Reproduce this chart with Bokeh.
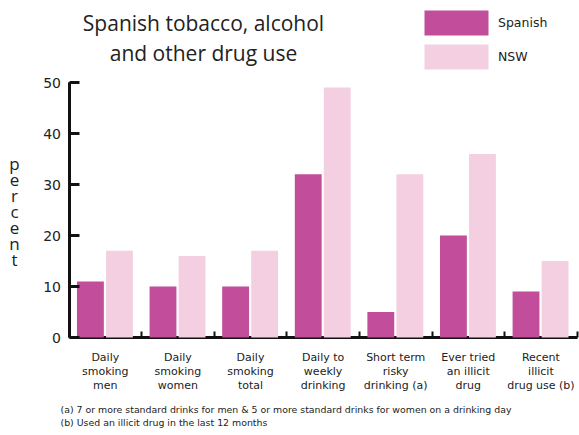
from bokeh.plotting import figure
from bokeh.models import Range1d, FixedTicker, Label, Legend, LegendItem, ColumnDataSource, CustomJSTickFormatter, LinearAxis
from bokeh.embed import file_html
from bokeh.resources import INLINE
import numpy as np

categories = [["Daily", "smoking", "men"], ["Daily", "smoking", "women"], ["Daily", "smoking", "total"],
              ["Daily to", "weekly", "drinking"], ["Short term", "risky", "drinking (a)"],
              ["Ever tried", "an illicit", "drug"], ["Recent", "illicit", "drug use (b)"]]
spanish = [11, 10, 10, 32, 5, 20, 9]
nsw = [17, 16, 17, 49, 32, 36, 15]
y_ticks = [0, 10, 20, 30, 40, 50]
series_names = ["Spanish", "NSW"]
title_lines = ["Spanish tobacco, alcohol", "and other drug use"]
y_label = "percent"
footnotes = ["(a) 7 or more standard drinks for men & 5 or more standard drinks for women on a drinking day",
             "(b) Used an illicit drug in the last 12 months"]

SP_COL = "#C14D9B"
NSW_COL = "#F4CFE2"
TXT = "#222222"
AXC = "#111111"
FONT = "DejaVu Sans"

W, H = 579, 435
AX_X, AX_Y = 68.5, 337.0      # page position of the axes origin
PX_X, PX_Y = 72.6, 5.1        # pixels per data unit

n = len(categories)
idx = np.arange(n)
src = ColumnDataSource(dict(x_sp=idx + 0.295, x_nsw=idx + 0.695, sp=spanish, nsw=nsw))

p = figure(width=W, height=H, output_backend="svg", toolbar_location=None,
           x_range=Range1d(-AX_X / PX_X, (W - AX_X) / PX_X),
           y_range=Range1d(-(H - AX_Y) / PX_Y, AX_Y / PX_Y),
           min_border=0)
p.outline_line_color = None
p.grid.visible = False

def dx(page_x):
    return (page_x - AX_X) / PX_X
def dy(page_y):
    return (AX_Y - page_y) / PX_Y

r_sp = p.vbar(x="x_sp", top="sp", bottom=0, width=0.37, source=src, fill_color=SP_COL, line_color=None)
r_nsw = p.vbar(x="x_nsw", top="nsw", bottom=0, width=0.37, source=src, fill_color=NSW_COL, line_color=None)

nolabel = CustomJSTickFormatter(code="return ' '")

# x axis: rule with group-separator ticks pointing up, drawn under the bars
xa = p.xaxis[0]
xa.fixed_location = 0
xa.bounds = (0, n)
xa.ticker = FixedTicker(ticks=list(idx + 1.0), minor_ticks=[])
xa.formatter = nolabel
xa.major_tick_in = 6
xa.major_tick_out = 0
xa.major_tick_line_width = 2
xa.major_tick_line_color = AXC
xa.minor_tick_in = 0
xa.minor_tick_out = 0
xa.axis_line_width = 3
xa.axis_line_color = AXC
xa.level = "underlay"

# y axis, left side: rule + tick labels
ya = p.yaxis[0]
ya.fixed_location = 0
ya.bounds = (0, 50)
ya.ticker = FixedTicker(ticks=y_ticks)
ya.minor_tick_in = 0
ya.minor_tick_out = 0
ya.major_tick_in = 0
ya.major_tick_out = 0
ya.axis_line_width = 3
ya.axis_line_color = AXC
ya.major_label_text_font = FONT
ya.major_label_text_font_size = "14px"
ya.major_label_text_color = TXT
ya.major_label_standoff = 8

# y axis, right side at the same place: rule + ticks pointing into the plot
ya2 = LinearAxis(fixed_location=0, bounds=(0, 50),
                 ticker=FixedTicker(ticks=y_ticks, minor_ticks=[]), formatter=nolabel,
                 major_tick_in=0, major_tick_out=10,
                 major_tick_line_width=3, major_tick_line_color=AXC,
                 minor_tick_in=0, minor_tick_out=0,
                 axis_line_width=3, axis_line_color=AXC)
p.add_layout(ya2, "right")

# category labels, one Label per line
for i, lines in enumerate(categories):
    for j, line in enumerate(lines):
        p.add_layout(Label(x=i + 0.5, y=dy(357 + 14 * j), text=line, text_align="center",
                           text_baseline="middle", text_font=FONT, text_font_size="11px",
                           text_color=TXT))

# title lines
for line, py in zip(title_lines, [22, 52]):
    p.add_layout(Label(x=dx(203), y=dy(py), text=line, text_align="center", text_baseline="middle",
                       text_font="Open Sans", text_font_size="21px", text_color=TXT))

# stacked y label
for i, ch in enumerate(y_label):
    p.add_layout(Label(x=dx(14), y=dy(163 + 16 * i), text=ch, text_align="center", text_baseline="middle",
                       text_font="Open Sans", text_font_size="17px", text_color=TXT))

# footnotes
for line, py in zip(footnotes, [409, 422]):
    p.add_layout(Label(x=dx(60), y=dy(py), text=line, text_align="left", text_baseline="middle",
                       text_font=FONT, text_font_size="9.4px", text_color=TXT))

legend = Legend(items=[LegendItem(label=series_names[0], renderers=[r_sp]),
                       LegendItem(label=series_names[1], renderers=[r_nsw])],
                location=(416, H - 72), orientation="vertical",
                glyph_width=80, glyph_height=31, spacing=3, padding=0, margin=0,
                label_standoff=2, label_text_font=FONT, label_text_font_size="12.5px",
                label_text_color=TXT, border_line_color=None, background_fill_alpha=0)
p.add_layout(legend, "center")

open("out.html", "w").write(file_html(p, INLINE))
